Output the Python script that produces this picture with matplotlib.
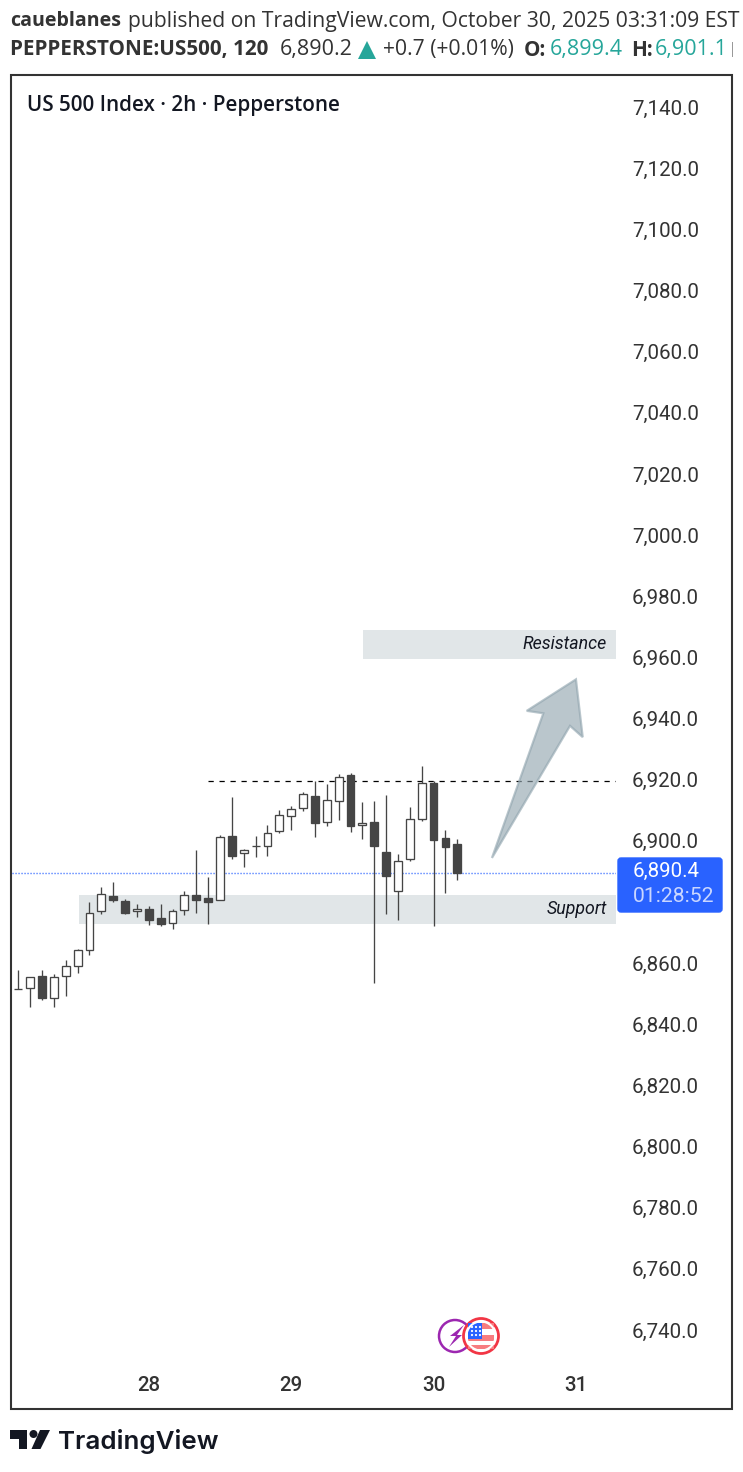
"""US 500 2h candles with support / resistance zones, TradingView snapshot look."""
import matplotlib
matplotlib.use("Agg")
import matplotlib.pyplot as plt
from matplotlib.patches import Circle, FancyBboxPatch, Polygon, Rectangle
from matplotlib.transforms import Affine2D

W, H = 743, 1472

# candle values, index 11 = day 28, 23 = day 29, 35 = day 30
opens = [6851.5, 6851.8, 6855.7, 6848.5, 6855.7, 6859.0, 6864.2, 6877.0, 6881.9, 6880.2,
         6876.9, 6877.6, 6874.7, 6873.1, 6877.3, 6882.2, 6881.2, 6880.6, 6901.5, 6895.9,
         6898.2, 6898.2, 6903.1, 6908.0, 6910.6, 6914.5, 6906.0, 6912.9, 6921.4, 6905.1,
         6906.0, 6896.2, 6883.5, 6893.9, 6907.0, 6918.8, 6900.8, 6898.8]
highs = [6857.8, 6855.6, 6857.8, 6856.5, 6861.1, 6864.7, 6880.0, 6884.9, 6886.6, 6880.9,
         6879.4, 6878.7, 6879.4, 6877.7, 6883.6, 6897.0, 6888.2, 6901.9, 6914.4, 6897.4,
         6901.6, 6905.2, 6910.1, 6911.4, 6916.0, 6919.5, 6918.6, 6921.9, 6922.2, 6912.7,
         6913.0, 6915.0, 6895.7, 6911.1, 6924.5, 6919.5, 6903.5, 6900.6]
lows = [6851.5, 6845.5, 6847.8, 6845.8, 6849.1, 6856.9, 6862.8, 6876.2, 6880.0, 6875.9,
        6875.2, 6872.3, 6872.0, 6871.3, 6875.6, 6876.4, 6872.9, 6880.6, 6894.2, 6891.3,
        6894.8, 6895.1, 6902.7, 6903.6, 6909.9, 6901.4, 6905.0, 6906.9, 6903.0, 6900.7,
        6853.6, 6876.2, 6874.2, 6893.5, 6906.6, 6872.2, 6883.0, 6887.3]
closes = [6851.5, 6855.6, 6848.7, 6855.4, 6859.0, 6864.2, 6876.5, 6882.5, 6880.5, 6876.5,
          6877.6, 6874.2, 6872.9, 6877.0, 6882.2, 6880.8, 6880.1, 6901.2, 6894.9, 6896.9,
          6898.2, 6902.7, 6908.3, 6910.5, 6915.2, 6905.9, 6913.2, 6920.8, 6905.0, 6905.7,
          6898.4, 6888.6, 6893.3, 6907.0, 6918.8, 6900.4, 6898.1, 6889.6]

# 6,880.0 sits under the last price tag in the original, so it has no label
price_ticks = [p for p in range(6740, 7141, 20) if p != 6880]
day_pos = [11, 23, 35, 47]
day_labels = ["28", "29", "30", "31"]

support = (6872.9, 6882.3)
support_start = 5.1
resistance = (6959.5, 6969.0)
resistance_start = 29.05
level_price = 6919.6
level_start = 16.0
last_price = 6889.6
zone_end = 50.37

arrow_idx = [39.92, 44.25, 42.85, 47.0, 47.57, 46.5]
arrow_price = [6894.4, 6941.7, 6942.5, 6952.8, 6933.9, 6937.6]

CANDLE = "#454545"
TEAL = "#26a69a"
BLUE = "#2962ff"
ZONE = "#e1e6e8"
INK = "#333333"
HEAD = ["Open Sans", "DejaVu Sans"]

plt.rcParams["font.family"] = ["Roboto", "DejaVu Sans"]
fig = plt.figure(figsize=(W / 100, H / 100), dpi=100, facecolor="white")
# pixel coordinates of the image, y going down, for everything outside the plot
pix = Affine2D().scale(1, -1).translate(0, H)

left, right, top, bottom = 12, 616, 76, 1366
ax = fig.add_axes([left / W, 1 - bottom / H, (right - left) / W, (bottom - top) / H])
for s in ax.spines.values():
    s.set_visible(False)
ax.set_xlim((left - 18.3) / 11.865, (right - 18.3) / 11.865)
ax.set_ylim(7140 - (bottom - 107) / 3.0575, 7140 - (top - 107) / 3.0575)

# zones and levels
ax.fill_between([support_start, zone_end], *support, color=ZONE, lw=0, zorder=1)
ax.fill_between([resistance_start, zone_end], *resistance, color=ZONE, lw=0, zorder=1)
ax.plot([level_start, zone_end], [level_price] * 2, color="black", lw=0.9,
        dashes=(4.2, 4.6), zorder=2)
ax.plot(ax.get_xlim(), [last_price] * 2, color=BLUE, lw=1.0, dashes=(0.8, 1.36),
        dash_capstyle="butt", snap=True, zorder=2)

# candles
for i in range(len(opens)):
    ax.vlines(i, lows[i], highs[i], color=CANDLE, lw=0.95, zorder=3)
    up = closes[i] >= opens[i]
    ax.bar(i, abs(closes[i] - opens[i]), bottom=min(opens[i], closes[i]), width=0.66,
           facecolor="white" if up else CANDLE, edgecolor=CANDLE, linewidth=0.95, zorder=4)

ax.add_patch(Polygon(list(zip(arrow_idx, arrow_price)), closed=True, facecolor="#90a4ae",
                     edgecolor="#90a4ae", alpha=0.62, lw=1.6, joinstyle="miter", zorder=5))

ax.text(49.6, sum(resistance) / 2, "Resistance", ha="right", va="center",
        style="italic", fontsize=12.8, color="#131722", zorder=6)
ax.text(49.6, sum(support) / 2, "Support", ha="right", va="center",
        style="italic", fontsize=12.8, color="#131722", zorder=6)

# axes labels
ax.yaxis.tick_right()
ax.set_yticks(price_ticks)
ax.set_yticklabels([f"{p:,.1f}" for p in price_ticks], fontsize=14.8, color=INK,
                   va="center_baseline")
ax.tick_params(axis="y", length=0, pad=11.6)
ax.set_xticks(day_pos)
ax.set_xticklabels(day_labels, fontsize=14.8, fontweight="medium", color=INK)
ax.tick_params(axis="x", length=0, pad=7.5)

# outer frame
fig.add_artist(Rectangle((11, 75), 721, 1334, transform=pix, fill=False, edgecolor=INK, lw=1.5))

# last price tag
fig.add_artist(FancyBboxPatch((618, 858), 104, 54, boxstyle="round,pad=0,rounding_size=3",
                              transform=pix, facecolor=BLUE, edgecolor=BLUE, lw=1, zorder=6))
fig.text(632.5, 871, "6,890.4", transform=pix, fontsize=14.8, color="white", va="center", zorder=7)
fig.text(632.5, 896, "01:28:52", transform=pix, fontsize=15.2, color="#c9d6ff", va="center", zorder=7)

# header, run by run: x, text, weight, colour, size
row1 = [(10, "caueblanes", "bold", INK, 14.1),
        (128, "published on TradingView.com, October 30, 2025 03:31:09 EST", "normal", INK, 15.2)]
row2 = [(10, "PEPPERSTONE:US500, 120", "bold", INK, 14.9), (280, "6,890.2", "normal", INK, 15.5),
        (383, "+0.7 (+0.01%)", "normal", INK, 15.2), (524, "O:", "bold", INK, 14.9),
        (550, "6,899.4", "normal", TEAL, 15.5), (631, "H:", "bold", INK, 14.9),
        (655, "6,901.1", "normal", TEAL, 15.5)]
for y, row in ((21, row1), (50, row2)):
    for x, s, weight, col, size in row:
        fig.text(x, y, s, transform=pix, family=HEAD, fontsize=size, fontweight=weight,
                 color=col, va="center")
fig.add_artist(Polygon([(358, 59), (376, 59), (367, 41)], transform=pix, facecolor=TEAL, lw=0))
fig.add_artist(Rectangle((732, 42), 1.2, 15, transform=pix, facecolor="#999999", lw=0))
fig.text(27, 105, "US 500 Index · 2h · Pepperstone", transform=pix, family=HEAD, fontsize=14.9,
         fontweight="semibold", color="#131722", va="center")

# event badges
fig.add_artist(Circle((455, 1336), 16, transform=pix, facecolor="white", edgecolor="#9c27b0", lw=1.8, zorder=6))
fig.add_artist(Polygon([(464, 1325), (450, 1336), (456, 1336), (449, 1347), (462, 1335), (457, 1335)],
                       transform=pix, facecolor="#9c27b0", lw=0, zorder=6))
fig.add_artist(Circle((481, 1336), 17.5, transform=pix, facecolor="white", edgecolor="#f23645", lw=2, zorder=7))
for y0, y1 in ((1323, 1329), (1335, 1341), (1345, 1349)):
    fig.add_artist(Rectangle((468, y0), 26, y1 - y0, transform=pix, facecolor="#f77c80", lw=0, zorder=8))
fig.add_artist(Rectangle((468, 1323), 14, 16, transform=pix, facecolor="#2962ff", lw=0, zorder=9))
for sx in (472, 476, 480):
    for sy in (1327, 1331, 1335):
        fig.add_artist(Circle((sx, sy), 1.1, transform=pix, facecolor="white", lw=0, zorder=9))
fig.add_artist(Circle((481, 1336), 14.5, transform=pix, fill=False, edgecolor="white", lw=1.5, zorder=10))

# TradingView logo
LOGO = "#131722"
fig.add_artist(Polygon([(10, 1430), (27, 1430), (27, 1449), (19, 1449), (19, 1438.5), (10, 1438.5)],
                       transform=pix, facecolor=LOGO, lw=0))
fig.add_artist(Circle((33.5, 1434), 4, transform=pix, facecolor=LOGO, lw=0))
fig.add_artist(Polygon([(40, 1430), (50, 1430), (40.5, 1449), (31.5, 1449)], transform=pix, facecolor=LOGO, lw=0))
fig.text(58, 1441, "TradingView", transform=pix, family=["Inter", "DejaVu Sans"], fontsize=18.7,
         fontweight="semibold", color=LOGO, va="center")

fig.savefig("out.png", dpi=100)
